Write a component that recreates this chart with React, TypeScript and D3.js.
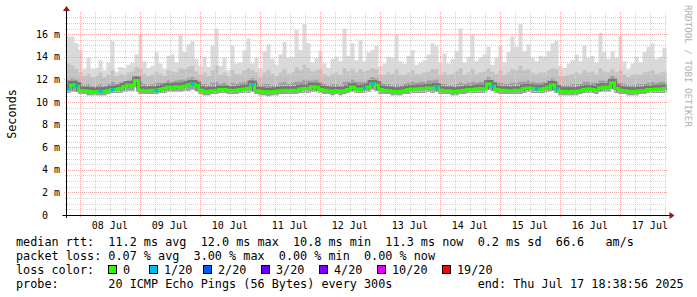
import React from 'react';
import * as d3 from 'd3';

// ---- data (ms) ----
const END_TIME = Date.UTC(2025, 6, 17, 18, 38, 56);
const SPAN_DAYS = 10;

const medianRtt = [
  11.2, 11.5, 11.4, 11.0, 11.0, 10.95, 10.9, 10.9, 10.95, 10.95,
  11.0, 11.1, 11.1, 11.2, 11.35, 11.5, 11.45, 11.9, 11.05, 11.0,
  11.0, 11.05, 11.0, 11.1, 11.2, 11.3, 11.25, 11.35, 11.3, 11.4,
  11.5, 11.6, 11.45, 11.05, 10.95, 10.95, 11.0, 11.0, 11.1, 11.1,
  11.05, 11.0, 11.05, 11.1, 11.15, 11.2, 11.55, 11.0, 10.95, 10.9,
  10.9, 10.9, 10.95, 11.0, 11.05, 11.0, 11.05, 11.0, 11.15, 11.2,
  11.2, 11.35, 11.3, 11.1, 11.05, 11.0, 10.95, 11.0, 10.95, 11.0,
  11.1, 11.3, 11.15, 11.1, 11.2, 11.3, 11.6, 11.5, 11.1, 11.05,
  11.0, 10.95, 10.95, 10.9, 11.0, 11.1, 11.15, 11.15, 11.2, 11.2,
  11.25, 11.2, 11.3, 11.05, 11.0, 11.0, 10.95, 10.95, 11.0, 11.05,
  11.1, 11.1, 11.15, 11.2, 11.15, 11.6, 11.4, 11.1, 11.05, 11.05,
  11.0, 11.0, 11.05, 11.05, 11.2, 11.25, 11.2, 11.15, 11.1, 11.2,
  11.3, 11.5, 11.15, 10.95, 10.95, 10.9, 10.95, 10.95, 11.0, 11.1,
  11.15, 11.1, 11.05, 11.25, 11.3, 11.3, 11.7, 11.2, 11.05, 11.0,
  10.95, 10.95, 10.95, 11.0, 11.0, 11.1, 11.1, 11.15, 11.15, 11.2,
];

const minRtt = [
  10.8, 10.9, 10.9, 10.7, 10.7, 10.6, 10.6, 10.6, 10.6, 10.6,
  10.7, 10.8, 10.8, 10.8, 10.9, 11.0, 11.0, 11.3, 10.7, 10.7,
  10.7, 10.7, 10.7, 10.8, 10.8, 10.9, 10.9, 10.9, 10.9, 11.0,
  11.0, 11.1, 11.0, 10.7, 10.6, 10.6, 10.7, 10.7, 10.8, 10.8,
  10.7, 10.7, 10.7, 10.8, 10.8, 10.8, 11.0, 10.7, 10.6, 10.6,
  10.5, 10.6, 10.6, 10.7, 10.7, 10.7, 10.7, 10.7, 10.8, 10.8,
  10.8, 10.9, 10.9, 10.8, 10.7, 10.7, 10.6, 10.7, 10.6, 10.7,
  10.8, 10.9, 10.8, 10.8, 10.8, 10.9, 11.1, 11.0, 10.7, 10.7,
  10.7, 10.6, 10.6, 10.6, 10.7, 10.7, 10.8, 10.8, 10.8, 10.8,
  10.9, 10.8, 10.9, 10.7, 10.7, 10.7, 10.6, 10.6, 10.7, 10.7,
  10.8, 10.8, 10.8, 10.8, 10.8, 11.1, 11.0, 10.8, 10.7, 10.7,
  10.7, 10.7, 10.7, 10.7, 10.8, 10.9, 10.8, 10.8, 10.8, 10.8,
  10.9, 11.0, 10.8, 10.6, 10.6, 10.6, 10.6, 10.6, 10.7, 10.8,
  10.8, 10.8, 10.7, 10.9, 10.9, 10.9, 11.2, 10.8, 10.7, 10.7,
  10.6, 10.6, 10.6, 10.7, 10.7, 10.8, 10.8, 10.8, 10.8, 10.8,
];

const upperDark = [
  12.0, 12.1, 12.0, 11.7, 11.5, 11.6, 11.4, 11.5, 11.6, 11.4,
  11.6, 11.8, 11.6, 11.7, 11.8, 11.9, 12.0, 12.3, 11.8, 11.6,
  11.5, 11.6, 11.7, 11.7, 11.7, 11.9, 11.8, 11.9, 12.0, 12.0,
  12.1, 12.2, 12.0, 11.6, 11.6, 11.5, 11.7, 11.8, 11.6, 11.7,
  11.5, 11.7, 11.6, 11.7, 11.8, 11.9, 12.1, 11.7, 11.5, 11.6,
  11.6, 11.5, 11.5, 11.7, 11.8, 11.6, 11.7, 11.8, 11.8, 12.0,
  11.9, 11.9, 12.0, 11.8, 11.6, 11.5, 11.6, 11.6, 11.5, 11.8,
  11.8, 12.0, 11.8, 11.8, 11.8, 12.0, 12.2, 12.1, 11.7, 11.6,
  11.6, 11.5, 11.6, 11.5, 11.6, 11.7, 11.8, 11.7, 11.8, 11.8,
  11.9, 11.9, 12.0, 11.6, 11.6, 11.5, 11.5, 11.6, 11.7, 11.6,
  11.7, 11.8, 11.7, 11.8, 11.8, 12.2, 12.0, 11.7, 11.7, 11.6,
  11.6, 11.7, 11.7, 11.8, 11.8, 11.9, 11.8, 11.7, 11.7, 11.8,
  11.9, 12.1, 11.8, 11.5, 11.5, 11.5, 11.6, 11.6, 11.6, 11.8,
  11.8, 11.7, 11.7, 11.9, 11.9, 11.9, 12.3, 11.8, 11.7, 11.6,
  11.5, 11.5, 11.6, 11.6, 11.6, 11.7, 11.8, 11.7, 11.8, 11.8,
];

const upperMid = [
  13.4, 13.2, 12.9, 12.6, 12.3, 12.5, 12.2, 12.3, 12.6, 12.2,
  12.4, 12.8, 12.3, 12.5, 12.4, 12.6, 12.7, 13.1, 13.0, 12.5,
  12.3, 12.4, 12.7, 12.5, 12.3, 12.8, 12.7, 12.6, 13.0, 12.9,
  13.1, 13.2, 12.7, 12.4, 12.6, 12.3, 12.8, 13.2, 12.4, 12.6,
  12.3, 12.8, 12.5, 12.5, 12.8, 13.0, 12.8, 12.6, 12.2, 12.6,
  12.8, 12.5, 12.3, 12.6, 12.9, 12.5, 12.6, 13.1, 12.8, 13.3,
  13.0, 12.7, 12.8, 12.9, 12.5, 12.3, 12.5, 12.6, 12.4, 13.0,
  12.7, 12.9, 12.6, 12.9, 12.7, 12.8, 13.0, 12.9, 12.4, 12.4,
  12.6, 12.5, 12.9, 12.4, 12.4, 12.6, 12.8, 12.5, 12.5, 12.6,
  12.7, 12.9, 12.9, 12.4, 12.6, 12.4, 12.5, 12.7, 13.0, 12.4,
  12.6, 12.9, 12.5, 12.6, 12.7, 13.0, 12.7, 12.5, 12.8, 12.4,
  12.6, 12.9, 12.8, 13.2, 12.8, 12.9, 12.6, 12.5, 12.6, 12.6,
  12.8, 13.0, 12.9, 12.3, 12.3, 12.4, 12.5, 12.6, 12.5, 12.8,
  12.6, 12.7, 12.5, 13.0, 12.7, 12.6, 12.9, 12.6, 12.8, 12.4,
  12.2, 12.4, 12.5, 12.4, 12.6, 12.7, 12.8, 12.5, 12.6, 12.7,
];

const maxRtt = [
  15.8, 15.8, 15.2, 14.6, 12.9, 13.9, 12.9, 13.0, 13.7, 12.8,
  13.5, 15.4, 12.7, 13.1, 13.0, 13.3, 13.5, 14.2, 16.0, 13.6,
  13.0, 13.2, 14.4, 13.4, 12.9, 14.1, 14.2, 13.5, 15.9, 14.4,
  15.1, 15.4, 13.8, 13.2, 14.0, 13.1, 15.0, 16.5, 13.2, 13.9,
  12.8, 15.0, 13.4, 13.5, 14.6, 15.6, 13.4, 13.9, 12.9, 14.5,
  15.1, 13.8, 13.3, 14.2, 15.3, 13.9, 14.0, 16.4, 14.6, 16.9,
  15.2, 13.5, 13.9, 14.5, 13.4, 13.0, 13.8, 14.0, 13.6, 16.5,
  14.1, 15.2, 13.7, 15.5, 13.6, 14.4, 14.6, 15.0, 13.2, 13.4,
  14.0, 13.9, 16.0, 13.6, 13.4, 14.1, 14.6, 13.3, 13.5, 13.7,
  14.2, 15.2, 15.0, 13.5, 14.3, 13.4, 13.8, 14.5, 16.5, 13.5,
  14.0, 16.0, 13.6, 13.9, 14.2, 14.9, 13.3, 13.9, 15.0, 13.5,
  14.4, 15.8, 14.9, 16.9, 14.5, 15.1, 13.9, 13.6, 14.1, 14.0,
  14.5, 15.2, 15.4, 13.2, 13.0, 13.4, 13.7, 14.2, 13.6, 15.0,
  13.9, 14.1, 13.5, 16.1, 14.4, 13.8, 14.5, 13.9, 15.8, 13.6,
  12.9, 13.4, 14.0, 13.5, 14.4, 14.9, 15.2, 13.8, 14.0, 14.8,
];

// lost pings out of 20 per sample
const lossCount = [
  1, 0, 1, 0, 0, 0, 0, 0, 1, 0,
  0, 1, 0, 0, 0, 0, 0, 0, 0, 0,
  0, 0, 1, 0, 0, 0, 0, 0, 0, 0,
  0, 1, 0, 0, 0, 0, 0, 0, 0, 0,
  0, 0, 0, 0, 0, 0, 1, 0, 0, 0,
  0, 0, 0, 0, 0, 0, 0, 0, 0, 0,
  0, 0, 0, 0, 0, 0, 0, 0, 0, 0,
  0, 0, 0, 0, 1, 0, 1, 0, 0, 0,
  0, 0, 0, 0, 0, 0, 0, 0, 0, 0,
  0, 0, 1, 0, 0, 0, 0, 0, 0, 0,
  0, 0, 0, 0, 0, 0, 1, 0, 0, 0,
  0, 0, 0, 0, 0, 0, 0, 1, 0, 0,
  0, 0, 1, 0, 0, 0, 0, 0, 0, 0,
  0, 0, 0, 0, 0, 0, 0, 0, 0, 0,
  0, 0, 0, 0, 0, 0, 0, 0, 0, 0,
];

const yTickValues = [0, 2, 4, 6, 8, 10, 12, 14, 16];
const lossLegendLabels = ['0', '1/20', '2/20', '3/20', '4/20', '10/20', '19/20'];
const lossLegendLevels = [0, 1, 2, 3, 4, 10, 19];
const lossColors = ['#26ff00', '#00b8ff', '#0059ff', '#5e00ff', '#7e00ff', '#dd00ff', '#ff0000'];

const legendLine1 = 'median rtt:  11.2 ms avg  12.0 ms max  10.8 ms min  11.3 ms now  0.2 ms sd  66.6   am/s';
const legendLine2 = 'packet loss: 0.07 % avg  3.00 % max  0.00 % min  0.00 % now';
const legendLine3 = 'loss color:';
const legendLine4 = 'probe:       20 ICMP Echo Pings (56 Bytes) every 300s            end: Thu Jul 17 18:38:56 2025';

// layout (px)
const legendBoxX = [108, 149, 203, 261, 319, 377, 442];

function lossColor(c: number) {
  let col = lossColors[0];
  for (let k = 0; k < lossLegendLevels.length; k++) {
    if (c >= lossLegendLevels[k]) col = lossColors[k];
  }
  return col;
}

export default function App() {
  const W = 697, H = 297;
  const left = 66.5, right = 666.5, bottom = 215, top = 11.6;
  const start = END_TIME - SPAN_DAYS * 86400000;
  const x = d3.scaleUtc().domain([start, END_TIME]).range([left, right]);
  const y = d3.scaleLinear().domain([0, 18]).range([bottom, top]);
  const n = medianRtt.length;
  const stepMs = (END_TIME - start) / n;
  const idx = d3.range(n + 1);
  const tAt = (i: number) => start + i * stepMs;
  const v = (arr: number[], i: number) => arr[Math.min(i, n - 1)];

  const band = (lo: number[], hi: number[]) =>
    d3.area<number>()
      .x((i) => x(tAt(i)))
      .y0((i) => y(v(lo, i)))
      .y1((i) => y(v(hi, i)))
      .curve(d3.curveStepAfter)(idx) || '';

  const medLine = d3.line<number>()
    .x((i) => x(tAt(i)))
    .y((i) => y(v(medianRtt, i)))
    .curve(d3.curveStepAfter)(idx) || '';

  const px = (p: number) => Math.round(p) + 0.5;

  // grid
  const minorY = d3.range(0.5, 18.01, 0.5).filter((t) => t % 2 !== 0);
  const majorY = yTickValues.filter((t) => t > 0);
  const majorX = d3.utcDay.range(new Date(start), new Date(END_TIME));
  const minorX = d3.utcHour.every(6)!.range(new Date(start), new Date(END_TIME))
    .filter((d) => d.getUTCHours() !== 0);
  const labelX = majorX.map((d) => d3.utcHour.offset(d, 12)).filter((d) => +d < END_TIME);
  const fmt = d3.utcFormat('%d %b');

  const mono = "'DejaVu Sans Mono', monospace";
  const minorColor = '#d4d4d4';
  const majorColor = '#f2a6a6';

  return (
    <svg width={W} height={H} style={{ display: 'block', position: 'absolute', left: 0, top: 0, background: '#fff' }}>
      <rect x={0} y={0} width={W} height={H} fill="#fff" />
      {/* smoke */}
      <path d={band(minRtt, maxRtt)} fill="#dadada" />
      <path d={band(minRtt, upperMid)} fill="#c2c2c2" />
      <path d={band(minRtt, upperDark)} fill="#a0a0a0" />

      {/* grid */}
      <g strokeWidth={1} fill="none" shapeRendering="crispEdges">
        {minorY.map((t) => (
          <line key={'my' + t} x1={left - 2} x2={right} y1={px(y(t))} y2={px(y(t))} stroke={minorColor} strokeDasharray="1 1" />
        ))}
        {minorX.map((d) => (
          <line key={'mx' + +d} x1={px(x(d))} x2={px(x(d))} y1={top} y2={bottom + 2} stroke={minorColor} strokeDasharray="1 1" />
        ))}
        {majorY.map((t) => (
          <line key={'My' + t} x1={left - 3} x2={right} y1={px(y(t))} y2={px(y(t))} stroke={majorColor} strokeDasharray="1 1" />
        ))}
        {majorX.map((d) => (
          <line key={'Mx' + +d} x1={px(x(d))} x2={px(x(d))} y1={top} y2={bottom + 3} stroke={majorColor} strokeDasharray="1 1" />
        ))}
      </g>

      {/* median with dark core smoke (mostly above the line) */}
      <path d={medLine} fill="none" stroke="#5e5e5e" strokeWidth={5} opacity={0.65} transform="translate(0,-1.5)" />
      <path d={medLine} fill="none" stroke={lossColors[0]} strokeWidth={3} />
      {lossCount.map((c, i) =>
        c > 0 ? (
          <line key={'l' + i} x1={x(tAt(i))} x2={x(tAt(i + 1))} y1={y(medianRtt[i])} y2={y(medianRtt[i])}
            stroke={lossColor(c)} strokeWidth={3} />
        ) : null
      )}

      {/* axes */}
      <line x1={left - 4} x2={right + 4} y1={bottom + 0.5} y2={bottom + 0.5} stroke="#000" />
      <line x1={left} x2={left} y1={bottom + 3} y2={top - 1} stroke="#000" />
      <path d={`M${right + 3},${bottom - 3} L${right + 8},${bottom + 0.5} L${right + 3},${bottom + 4} Z`} fill="#8b1a1a" />
      <path d={`M${left - 3.5},${top - 0.5} L${left},${top - 5.5} L${left + 3.5},${top - 0.5} Z`} fill="#8b1a1a" />

      {/* y tick labels */}
      {yTickValues.map((t) => (
        <text key={'yt' + t} x={60} y={y(t) + 3.6} fontFamily={mono} fontSize={10} textAnchor="end"
          fill="#000" xmlSpace="preserve" style={{ whiteSpace: 'pre' }}>
          {t === 0 ? '0\u00a0\u00a0' : `${t} m`}
        </text>
      ))}
      {/* x labels */}
      {labelX.map((d) => (
        <text key={'xt' + +d} x={x(d)} y={228.5} fontFamily={mono} fontSize={10} textAnchor="middle" fill="#000">
          {fmt(d)}
        </text>
      ))}

      {/* y title */}
      <text transform="translate(15.5,114) rotate(-90)" fontFamily={mono} fontSize={11.8} textAnchor="middle" fill="#000">
        Seconds
      </text>
      {/* watermark */}
      <text transform="translate(684.5,5) rotate(90)" fontFamily={mono} fontSize={9.2} fill="#b0b0b0">
        RRDTOOL / TOBI OETIKER
      </text>

      {/* legend */}
      <g fontFamily={mono} fontSize={11.8} fill="#000">
        <text x={16} y={246} xmlSpace="preserve" style={{ whiteSpace: 'pre' }}>{legendLine1}</text>
        <text x={16} y={259.5} xmlSpace="preserve" style={{ whiteSpace: 'pre' }}>{legendLine2}</text>
        <text x={16} y={274} xmlSpace="preserve" style={{ whiteSpace: 'pre' }}>{legendLine3}</text>
        {lossLegendLabels.map((lab, k) => (
          <g key={'lg' + k}>
            <rect x={legendBoxX[k] + 0.5} y={265.5} width={8} height={8} fill={lossColors[k]} stroke="#000" />
            <text x={legendBoxX[k] + 15} y={274}>{lab}</text>
          </g>
        ))}
        <text x={16} y={288} xmlSpace="preserve" style={{ whiteSpace: 'pre' }}>{legendLine4}</text>
      </g>
    </svg>
  );
}
